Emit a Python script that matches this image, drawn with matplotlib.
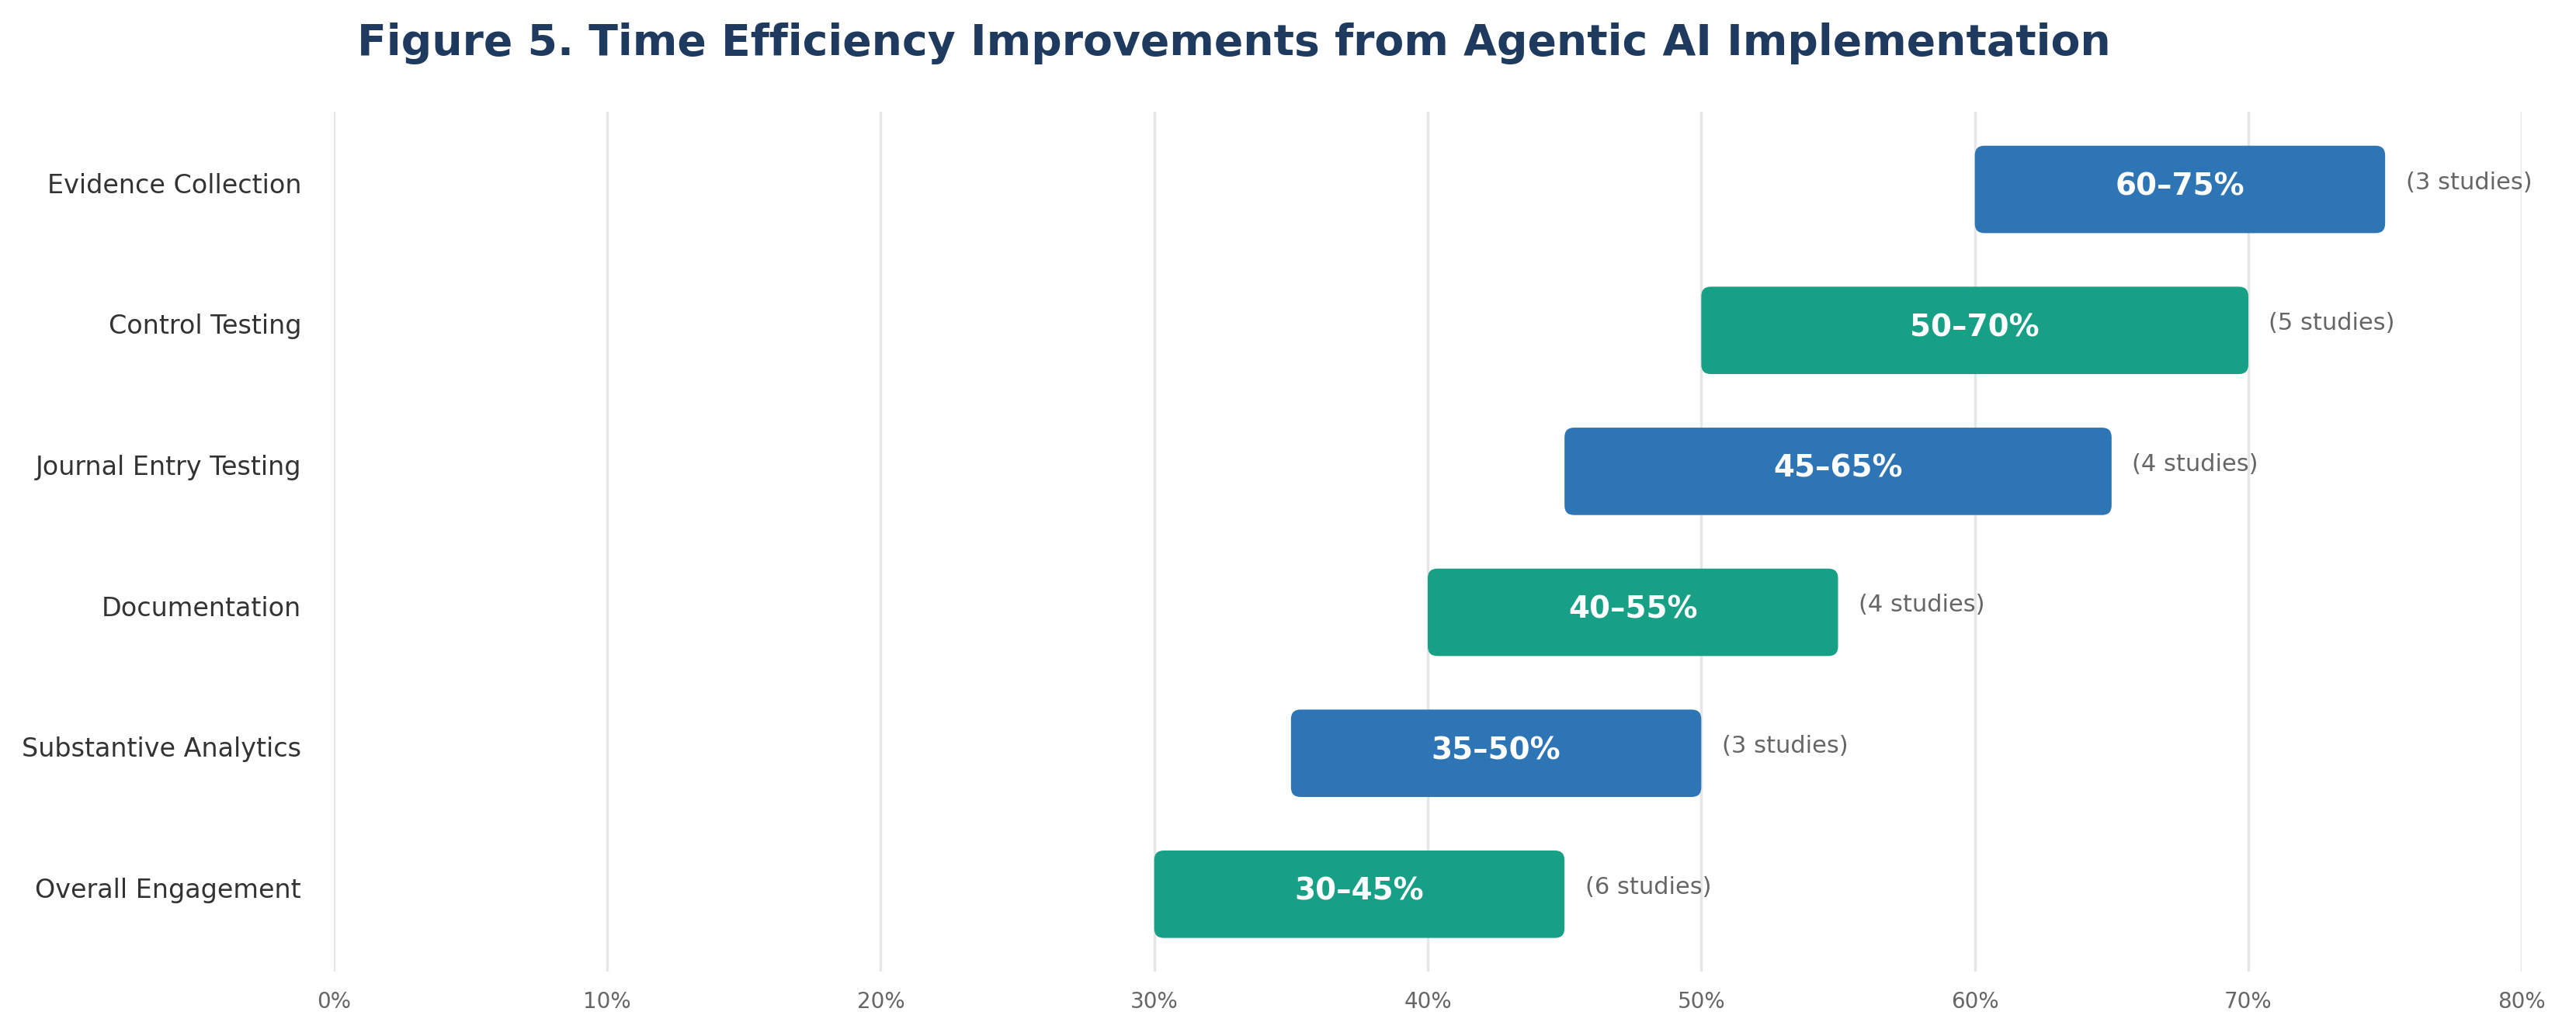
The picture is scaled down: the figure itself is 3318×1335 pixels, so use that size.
import matplotlib
matplotlib.use("Agg")
import matplotlib.pyplot as plt
from matplotlib.patches import FancyBboxPatch
from matplotlib.transforms import ScaledTranslation

categories = ["Evidence Collection", "Control Testing", "Journal Entry Testing",
              "Documentation", "Substantive Analytics", "Overall Engagement"]
low = [60, 50, 45, 40, 35, 30]
high = [75, 70, 65, 55, 50, 45]
studies = [3, 5, 4, 4, 3, 6]
xticks = [0, 10, 20, 30, 40, 50, 60, 70, 80]
xtick_labels = ["0%", "10%", "20%", "30%", "40%", "50%", "60%", "70%", "80%"]

blue = "#2E75B6"
green = "#17A085"
colors = [blue, green] * 3

plt.rcParams['font.family'] = ['DejaVu Sans']
fig = plt.figure(figsize=(16.59, 6.675), dpi=200)
ax = fig.add_axes([0.1295, 0.062, 0.8495, 0.830])

bar_h = 0.62
n = len(categories)
ys = list(range(n))[::-1]
ax.set_xlim(0, 80)
ax.set_ylim(-0.55, n - 1 + 0.55)

x_px = 0.8495 * 16.59 * 200 / 80.0
y_px = 0.830 * 6.675 * 200 / (n - 1 + 1.1)
aspect = x_px / y_px

for y, lo, hi, c, s in zip(ys, low, high, colors, studies):
    p = FancyBboxPatch((lo, y - bar_h / 2), hi - lo, bar_h,
                       boxstyle="round,pad=0,rounding_size=0.35",
                       mutation_aspect=aspect,
                       facecolor=c, edgecolor="none", zorder=3)
    ax.add_patch(p)
    ax.text((lo + hi) / 2, y + 0.02, f"{lo}\u2013{hi}%", ha="center", va="center",
            color="white", fontsize=14, fontweight="bold", zorder=4)
    ax.text(hi + 0.75, y + 0.05, f"({s} studies)", ha="left", va="center",
            color="#666666", fontsize=11, zorder=4)

ax.set_yticks(ys)
ax.set_yticklabels(categories, fontsize=12, color="#333333")
ax.set_xticks(xticks)
ax.set_xticklabels(xtick_labels, fontsize=10, color="#666666")
ax.tick_params(axis="y", length=0, pad=15)
ax.tick_params(axis="x", length=0, pad=9)
shift = ScaledTranslation(0, 3 / 72, fig.dpi_scale_trans)
for lbl in ax.get_yticklabels():
    lbl.set_transform(lbl.get_transform() + shift)
ax.grid(axis="x", color="#e6e6e6", linewidth=1.2, zorder=0)
ax.set_axisbelow(True)
for sp in ax.spines.values():
    sp.set_visible(False)

fig.text(0.479, 0.958, "Figure 5. Time Efficiency Improvements from Agentic AI Implementation",
         ha="center", va="center", fontsize=19.9, fontweight="bold", color="#1F3A5F")

fig.savefig("out.png", dpi=200, facecolor="white")
